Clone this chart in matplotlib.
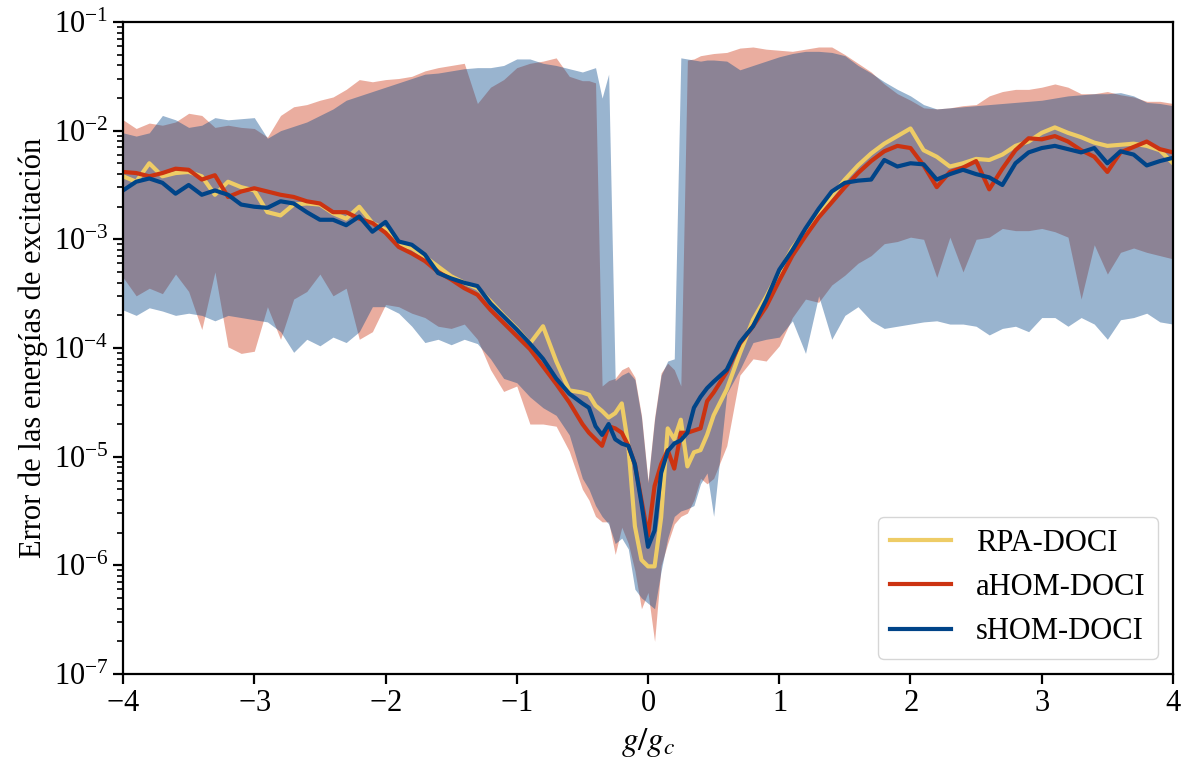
import numpy as np
import matplotlib
matplotlib.use("Agg")
import matplotlib.pyplot as plt

plt.rcParams['font.family'] = 'serif'
plt.rcParams['font.serif'] = ['Liberation Serif', 'DejaVu Serif']
plt.rcParams['mathtext.fontset'] = 'stix'
plt.rcParams['axes.formatter.use_mathtext'] = True

# x grid: 0.1 steps, finer (0.05) around g = 0
g = np.concatenate([np.round(np.arange(-4.0, -0.55, 0.1), 2),
                    np.round(np.arange(-0.5, 0.51, 0.05), 2),
                    np.round(np.arange(0.6, 4.01, 0.1), 2)])

# log10 of the mean error
rpa_log = [-2.42, -2.47, -2.30, -2.42, -2.39, -2.38, -2.42, -2.59, -2.47, -2.52, -2.55, -2.75,
           -2.78, -2.68, -2.67, -2.68, -2.76, -2.81, -2.70, -2.85, -2.91, -3.05, -3.08, -3.16,
           -3.25, -3.34, -3.40, -3.45, -3.57, -3.70, -3.82, -3.96, -3.80, -4.12, -4.39,
           -4.41, -4.43, -4.53, -4.58, -4.64, -4.60, -4.51, -4.90, -5.64, -5.95, -6.01, -6.01,
           -5.56, -4.74, -4.84, -4.66, -5.09, -4.96, -4.94, -4.80, -4.62,
           -4.38, -4.05, -3.74, -3.53, -3.30, -3.08, -2.92, -2.75, -2.60, -2.45, -2.32, -2.21,
           -2.12, -2.05, -1.98, -2.18, -2.24, -2.33, -2.30, -2.26, -2.27, -2.22, -2.14, -2.10,
           -2.02, -1.97, -2.02, -2.06, -2.11, -2.14, -2.13, -2.12, -2.14, -2.18, -2.30]
ahom_log = [-2.38, -2.39, -2.42, -2.39, -2.35, -2.36, -2.45, -2.41, -2.61, -2.56, -2.53, -2.56,
            -2.59, -2.61, -2.65, -2.67, -2.75, -2.75, -2.81, -2.85, -2.94, -3.07, -3.13, -3.20,
            -3.30, -3.37, -3.45, -3.51, -3.65, -3.77, -3.89, -4.01, -4.17, -4.33, -4.50,
            -4.70, -4.78, -4.84, -4.90, -4.72, -4.74, -4.78, -4.90, -5.07, -5.40, -5.73, -5.27,
            -5.07, -4.94, -5.11, -4.78, -4.78, -4.76, -4.74, -4.49, -4.41,
            -4.22, -3.96, -3.80, -3.62, -3.38, -3.15, -2.97, -2.80, -2.66, -2.52, -2.39, -2.28,
            -2.19, -2.14, -2.16, -2.32, -2.52, -2.38, -2.34, -2.28, -2.54, -2.35, -2.18, -2.07,
            -2.08, -2.05, -2.10, -2.18, -2.24, -2.38, -2.20, -2.15, -2.10, -2.17, -2.20]
shom_log = [-2.55, -2.47, -2.44, -2.48, -2.58, -2.50, -2.59, -2.55, -2.59, -2.68, -2.70, -2.71,
            -2.65, -2.67, -2.75, -2.82, -2.82, -2.87, -2.79, -2.93, -2.84, -3.02, -3.05, -3.14,
            -3.31, -3.36, -3.40, -3.43, -3.59, -3.71, -3.83, -3.96, -4.10, -4.28, -4.42,
            -4.51, -4.55, -4.72, -4.80, -4.70, -4.84, -4.88, -4.90, -5.07, -5.43, -5.83, -5.68,
            -5.15, -4.95, -4.88, -4.85, -4.78, -4.55, -4.45, -4.37, -4.31,
            -4.20, -3.95, -3.80, -3.56, -3.28, -3.10, -2.90, -2.72, -2.56, -2.48, -2.46, -2.45,
            -2.27, -2.33, -2.30, -2.31, -2.45, -2.40, -2.36, -2.40, -2.43, -2.50, -2.30, -2.20,
            -2.16, -2.14, -2.17, -2.20, -2.16, -2.30, -2.19, -2.22, -2.32, -2.28, -2.25]

# log10 of the min / max error bands (aHOM in red, sHOM in blue)
ahom_hi = [-1.90, -1.98, -1.93, -1.95, -1.92, -1.84, -1.86, -1.97, -1.95, -1.97, -1.98, -2.06,
           -1.86, -1.78, -1.76, -1.72, -1.69, -1.62, -1.53, -1.55, -1.53, -1.52, -1.50, -1.45,
           -1.42, -1.40, -1.38, -1.75, -1.60, -1.53, -1.42, -1.38, -1.36, -1.33, -1.50,
           -1.54, -1.54, -1.56, -4.35, -4.30, -4.28, -4.20, -4.17, -4.27, -4.62, -5.22, -4.64,
           -4.23, -4.14, -4.20, -4.35, -1.35, -1.34, -1.31, -1.30, -1.29,
           -1.28, -1.24, -1.23, -1.25, -1.26, -1.27, -1.25, -1.23, -1.23, -1.30, -1.38, -1.46,
           -1.57, -1.66, -1.72, -1.79, -1.80, -1.79, -1.77, -1.76, -1.68, -1.64, -1.62, -1.62,
           -1.60, -1.57, -1.60, -1.66, -1.66, -1.64, -1.67, -1.69, -1.73, -1.73, -1.75]
ahom_lo = [-3.35, -3.52, -3.45, -3.50, -3.32, -3.48, -3.83, -3.30, -3.99, -4.05, -4.03, -3.62,
           -3.92, -3.55, -3.48, -3.32, -3.52, -3.45, -3.92, -3.85, -3.60, -3.62, -3.68, -3.72,
           -3.80, -3.82, -3.78, -3.92, -4.20, -4.40, -4.35, -4.70, -4.70, -4.72, -4.95,
           -5.30, -5.40, -5.55, -5.60, -5.60, -5.90, -5.65, -5.80, -6.05, -6.40, -6.25, -6.70,
           -6.00, -5.80, -5.62, -5.55, -5.52, -5.40, -5.20, -5.25, -5.20,
           -4.90, -4.25, -4.10, -4.12, -3.98, -3.72, -3.55, -3.58, -3.42, -3.33, -3.22, -3.15,
           -3.04, -3.02, -2.98, -3.00, -3.35, -2.98, -3.30, -3.00, -2.98, -2.90, -2.92, -2.92,
           -2.90, -2.93, -2.98, -3.55, -3.05, -3.32, -3.12, -3.08, -3.12, -3.15, -3.18]
shom_hi = [-2.02, -2.05, -2.02, -1.86, -1.90, -1.97, -1.95, -1.88, -1.90, -1.89, -1.88, -2.07,
           -2.00, -1.96, -1.92, -1.86, -1.80, -1.72, -1.68, -1.64, -1.60, -1.56, -1.52, -1.48,
           -1.47, -1.45, -1.43, -1.42, -1.42, -1.40, -1.34, -1.34, -1.38, -1.40, -1.43,
           -1.46, -1.44, -1.42, -1.70, -1.48, -4.30, -4.25, -4.22, -4.29, -4.64, -5.24, -4.66,
           -4.25, -4.12, -4.10, -1.33, -1.34, -1.35, -1.36, -1.35, -1.35,
           -1.36, -1.44, -1.40, -1.36, -1.32, -1.29, -1.27, -1.27, -1.28, -1.31, -1.40, -1.47,
           -1.55, -1.62, -1.68, -1.76, -1.80, -1.79, -1.78, -1.77, -1.76, -1.75, -1.74, -1.73,
           -1.72, -1.70, -1.68, -1.67, -1.66, -1.66, -1.65, -1.68, -1.74, -1.75, -1.77]
shom_lo = [-3.65, -3.70, -3.63, -3.66, -3.70, -3.68, -3.70, -3.75, -3.70, -3.72, -3.74, -3.76,
           -3.85, -4.04, -3.92, -3.98, -3.90, -3.95, -3.85, -3.62, -3.62, -3.68, -3.80, -3.95,
           -3.92, -3.97, -3.92, -3.96, -4.10, -4.28, -4.32, -4.45, -4.55, -4.62, -4.80,
           -5.20, -5.30, -5.45, -5.55, -5.62, -5.80, -5.75, -5.85, -6.22, -6.30, -6.35, -6.40,
           -6.05, -5.75, -5.55, -5.50, -5.48, -5.45, -5.25, -5.15, -5.55,
           -4.42, -4.20, -3.95, -3.92, -3.90, -3.75, -4.05, -3.52, -3.92, -3.70, -3.62, -3.75,
           -3.82, -3.80, -3.78, -3.76, -3.75, -3.78, -3.78, -3.80, -3.88, -3.82, -3.80, -3.85,
           -3.72, -3.72, -3.80, -3.72, -3.78, -3.92, -3.74, -3.72, -3.68, -3.76, -3.78]

labels = ['RPA-DOCI', 'aHOM-DOCI', 'sHOM-DOCI']
colors = ['#EECC66', '#CC3311', '#004488']

fig = plt.figure(figsize=(11.9, 7.72), dpi=100)
ax = fig.add_axes([0.1034, 0.127, 0.8823, 0.8445])

ax.fill_between(g, 10**np.array(ahom_lo), 10**np.array(ahom_hi), color=colors[1], alpha=0.4, lw=0)
ax.fill_between(g, 10**np.array(shom_lo), 10**np.array(shom_hi), color=colors[2], alpha=0.4, lw=0)

for vals, lab, c in zip([rpa_log, ahom_log, shom_log], labels, colors):
    ax.plot(g, 10**np.array(vals), color=c, lw=3.0, label=lab)

ax.set_yscale('log')
ax.set_xlim(-4, 4)
ax.set_ylim(1e-7, 1e-1)
ax.set_xticks(range(-4, 5))
ax.tick_params(axis='both', which='major', labelsize=22, length=7, width=1.6)
ax.tick_params(axis='y', which='minor', length=4, width=1.2)
for s in ax.spines.values():
    s.set_linewidth(1.6)

ax.set_xlabel('$g/g_c$', fontsize=24, labelpad=6)
ax.set_ylabel('Error de las energías de excitación', fontsize=22)

ax.legend(loc='lower right', fontsize=22)

fig.savefig('out.png', dpi=100)
